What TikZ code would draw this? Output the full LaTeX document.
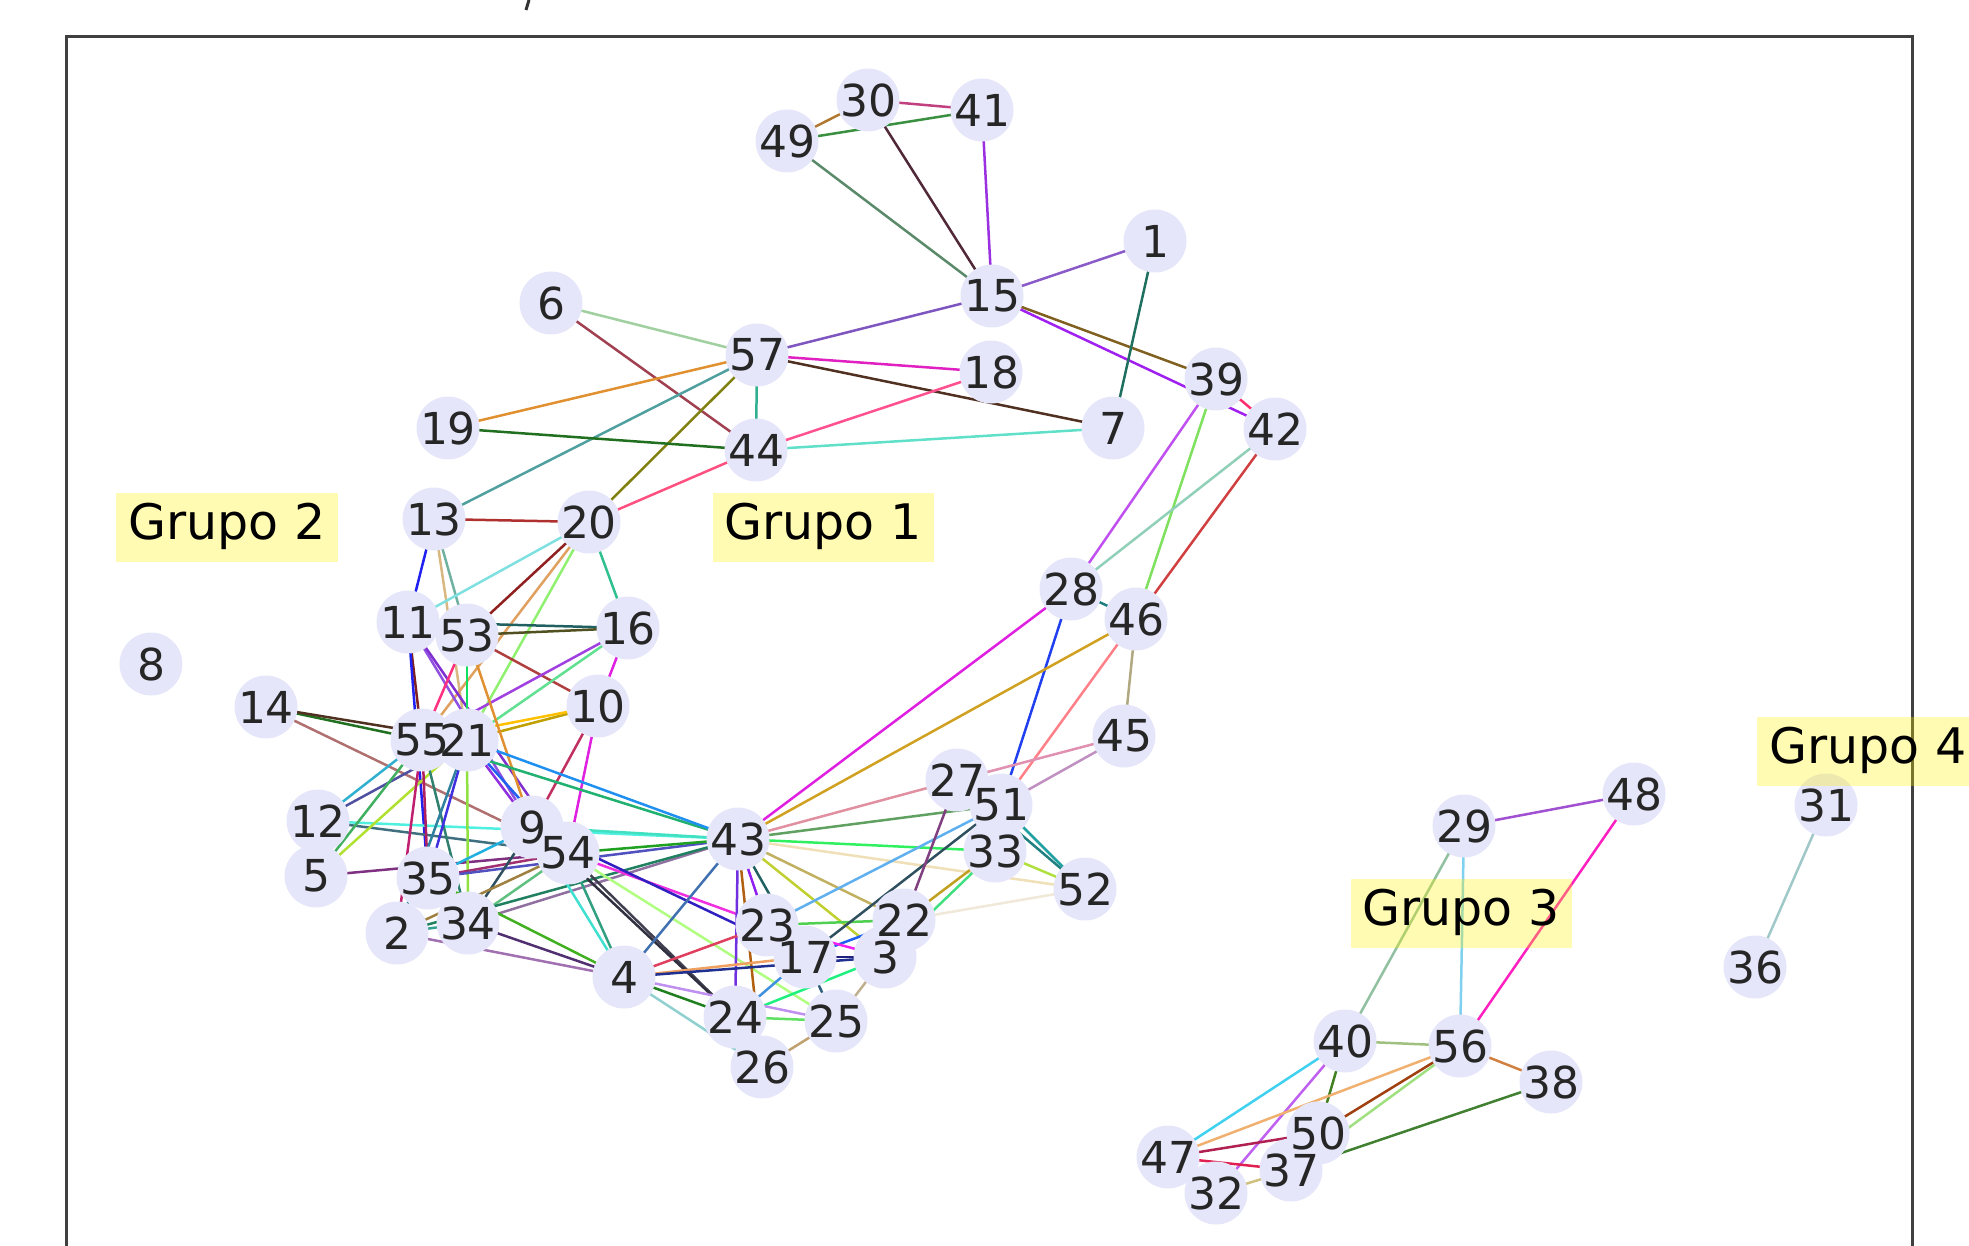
\documentclass[tikz,border=0pt]{standalone}
\usepackage{fontspec}
\setmainfont{DejaVu Sans}
\definecolor{lav}{HTML}{E6E6FA}
\newcommand\ptat[3]{\coordinate (n#1) at (#2,#3);}
\newcommand\edgeC[3]{\definecolor{tmpc}{HTML}{#3}\draw[edge,tmpc] (n#1) -- (n#2);}
\newcommand\vtxat[1]{\node[vtx] (v#1) at (n#1) {};}
\newcommand\vlab[1]{\node[lbl] (l#1) at (n#1) {#1};}
\begin{document}
\begin{tikzpicture}[x=1pt,y=-1pt,
  vtx/.style={circle,fill=lav,minimum size=63pt,inner sep=0pt},
  lbl/.style={inner sep=0pt,text=black!85,font=\fontsize{44}{44}\selectfont},
  edge/.style={line width=2.5pt},
  grp/.style={fill=yellow,fill opacity=0.3,text opacity=1,text=black,font=\fontsize{49}{49}\selectfont,text height=36pt,text depth=11pt,inner xsep=12pt,inner ysep=11pt}]
\useasboundingbox (0,0) rectangle (1969,1246);
% title fragment
\draw[line width=3pt,black!80] (529,0) -- (526,10);
% frame
\draw[line width=3pt,black!75] (66,1300) -- (66,37) -- (1912,37) -- (1912,1300);
% positions
\ptat{30}{868}{100}\ptat{41}{982}{110}\ptat{49}{787}{141}\ptat{1}{1155}{241}
\ptat{15}{992}{296}\ptat{6}{551}{303}\ptat{57}{757}{355}\ptat{18}{991}{372}
\ptat{39}{1216}{379}\ptat{42}{1275}{429}\ptat{7}{1113}{428}\ptat{19}{448}{428}
\ptat{44}{756}{450}\ptat{13}{434}{519}\ptat{20}{589}{522}\ptat{28}{1071}{589}
\ptat{46}{1136}{619}\ptat{11}{408}{622}\ptat{53}{467}{635}\ptat{16}{628}{628}
\ptat{8}{151}{664}\ptat{10}{598}{706}\ptat{14}{266}{707}\ptat{55}{422}{740}
\ptat{21}{467}{740}\ptat{45}{1124}{736}\ptat{27}{957}{780}\ptat{51}{1001}{805}
\ptat{12}{318}{821}\ptat{9}{532}{827}\ptat{54}{568}{853}\ptat{43}{738}{839}
\ptat{33}{995}{851}\ptat{52}{1085}{889}\ptat{5}{316}{876}\ptat{35}{428}{878}
\ptat{2}{397}{933}\ptat{34}{468}{923}\ptat{23}{767}{925}\ptat{22}{904}{920}
\ptat{17}{805}{957}\ptat{3}{885}{957}\ptat{4}{624}{977}\ptat{24}{735}{1017}
\ptat{25}{836}{1021}\ptat{26}{762}{1067}\ptat{29}{1464}{826}\ptat{48}{1634}{794}
\ptat{31}{1826}{805}\ptat{36}{1755}{967}\ptat{40}{1345}{1041}\ptat{56}{1460}{1046}
\ptat{38}{1551}{1082}\ptat{50}{1318}{1133}\ptat{47}{1168}{1157}\ptat{37}{1291}{1170}
\ptat{32}{1216}{1193}
% edges: top
\edgeC{30}{41}{C04080}\edgeC{49}{30}{B07830}\edgeC{49}{41}{3A9040}\edgeC{49}{15}{5A8A6A}
\edgeC{30}{15}{502838}\edgeC{41}{15}{9A30E0}\edgeC{15}{1}{8A5AC8}\edgeC{15}{57}{7F55C0}
\edgeC{15}{39}{806020}\edgeC{15}{42}{A020F0}\edgeC{39}{42}{FF3070}\edgeC{1}{7}{207060}
\edgeC{6}{57}{A0D0A0}\edgeC{6}{44}{A04050}\edgeC{57}{18}{E020C0}\edgeC{57}{7}{503020}
\edgeC{57}{19}{E09030}\edgeC{57}{13}{50A0A0}\edgeC{57}{20}{808010}\edgeC{57}{44}{30B090}
\edgeC{19}{44}{207020}\edgeC{44}{18}{FF5090}\edgeC{44}{7}{60E0C8}\edgeC{44}{20}{FF5080}
\edgeC{39}{28}{C050F0}\edgeC{39}{46}{80E060}\edgeC{42}{28}{90D0B8}\edgeC{42}{46}{D04040}
\edgeC{28}{46}{208080}\edgeC{28}{43}{E020E0}\edgeC{28}{51}{2040F0}\edgeC{46}{43}{D0A020}
\edgeC{46}{51}{FF8088}\edgeC{46}{45}{B0A880}\edgeC{45}{27}{E090B0}\edgeC{45}{51}{C090C0}
% edges: left cluster
\edgeC{13}{20}{B03030}\edgeC{13}{11}{2020F0}\edgeC{13}{53}{70B0A0}\edgeC{13}{21}{D8B880}
\edgeC{20}{11}{80E0E0}\edgeC{20}{53}{902020}\edgeC{20}{55}{E0A060}\edgeC{20}{21}{90F070}
\edgeC{20}{16}{30C090}\edgeC{11}{16}{206060}\edgeC{53}{16}{505020}\edgeC{53}{10}{B04040}
\edgeC{16}{21}{60E090}\edgeC{16}{55}{A040E0}\edgeC{16}{10}{E020E0}\edgeC{10}{21}{C0A000}
\edgeC{10}{55}{FFC000}\edgeC{10}{54}{E020E0}\edgeC{10}{9}{C03060}\edgeC{11}{55}{802020}
\edgeC{11}{35}{2020F0}\edgeC{11}{9}{9050E0}\edgeC{11}{54}{8030D0}\edgeC{53}{55}{FF3080}
\edgeC{53}{21}{10E060}\edgeC{53}{9}{E09030}\edgeC{14}{55}{207020}\edgeC{14}{21}{503020}
\edgeC{14}{54}{B07070}\edgeC{12}{55}{30B0D0}\edgeC{12}{21}{5050A0}\edgeC{12}{43}{50F0E0}
\edgeC{12}{54}{407080}\edgeC{5}{55}{40B060}\edgeC{5}{21}{B0E030}\edgeC{5}{54}{803080}
\edgeC{55}{35}{B02060}\edgeC{55}{2}{C02070}\edgeC{55}{34}{308070}\edgeC{21}{35}{4030E0}
\edgeC{21}{2}{3080A0}\edgeC{21}{34}{90E040}\edgeC{21}{54}{2060F0}\edgeC{21}{9}{9030E0}
\edgeC{55}{43}{20B070}\edgeC{21}{43}{2090F0}\edgeC{35}{54}{A03070}\edgeC{35}{43}{5050C0}
\edgeC{35}{9}{20B0E0}\edgeC{34}{9}{305060}\edgeC{2}{54}{A08040}\edgeC{2}{34}{30A090}
\edgeC{34}{54}{60C080}\edgeC{34}{43}{9070A0}\edgeC{2}{43}{208060}\edgeC{34}{4}{503070}
\edgeC{35}{4}{40B020}\edgeC{2}{4}{A070B0}\edgeC{54}{43}{20A020}\edgeC{9}{43}{40E0C0}
\edgeC{54}{23}{F030E0}\edgeC{9}{17}{3020C0}\edgeC{54}{4}{30A080}\edgeC{9}{4}{40E0D0}
\edgeC{54}{24}{404050}\edgeC{9}{24}{303040}\edgeC{54}{25}{B0FF80}
% edges: 43 hub and lower
\edgeC{43}{4}{4070B0}\edgeC{43}{24}{7030E0}\edgeC{43}{26}{B06010}\edgeC{43}{23}{9020F0}
\edgeC{43}{17}{206060}\edgeC{43}{22}{C0B060}\edgeC{43}{3}{C0D030}\edgeC{43}{33}{30F060}
\edgeC{43}{51}{60A060}\edgeC{43}{27}{E090A0}\edgeC{43}{52}{F0E0B8}\edgeC{23}{51}{60B0F0}
\edgeC{23}{22}{50D050}\edgeC{17}{51}{305060}\edgeC{27}{22}{804080}\edgeC{22}{33}{C0A020}
\edgeC{3}{33}{40E080}\edgeC{22}{52}{F0E8D8}\edgeC{51}{52}{20A0A0}\edgeC{27}{52}{208080}
\edgeC{33}{52}{B0E040}\edgeC{17}{22}{2060F0}\edgeC{17}{3}{202080}\edgeC{23}{3}{F020F0}
\edgeC{4}{23}{E04060}\edgeC{4}{17}{F0A060}\edgeC{4}{3}{203090}\edgeC{3}{24}{20F080}
\edgeC{3}{25}{C0B090}\edgeC{17}{24}{4090E0}\edgeC{17}{25}{306080}\edgeC{4}{24}{208020}
\edgeC{4}{25}{C090F0}\edgeC{4}{26}{90D0D0}\edgeC{24}{25}{60E060}\edgeC{25}{26}{C0A070}
% group 3 and 4
\edgeC{29}{48}{A050D0}\edgeC{29}{40}{90C0A0}\edgeC{29}{56}{80D0F0}\edgeC{48}{56}{FF20C0}
\edgeC{40}{56}{A0C080}\edgeC{40}{50}{408020}\edgeC{40}{47}{40D0F0}\edgeC{40}{32}{C060F0}
\edgeC{56}{38}{D08040}\edgeC{56}{47}{F0B070}\edgeC{56}{50}{A04010}\edgeC{56}{37}{A0E080}
\edgeC{38}{37}{408030}\edgeC{47}{50}{B02050}\edgeC{47}{37}{E02050}\edgeC{32}{37}{D0C080}
\edgeC{31}{36}{A0C8C8}
% vertices
\foreach \k in {30,41,49,1,15,6,57,18,39,42,7,19,44,13,20,28,46,11,53,16,8,10,14,55,21,45,27,51,12,9,54,43,33,52,5,35,2,34,23,22,17,3,4,24,25,26,29,48,31,36,40,56,38,50,47,37,32}{\vtxat{\k}}
\foreach \k in {30,41,49,1,15,6,57,18,39,42,7,19,44,13,20,28,46,11,53,16,8,10,14,55,21,45,27,51,12,9,54,43,33,52,5,35,2,34,23,22,17,3,4,24,25,26,29,48,31,36,40,56,38,50,47,37,32}{\vlab{\k}}
% group labels
\node[grp] (g1) at (823,527) {Grupo 1};
\node[grp] (g2) at (227,527) {Grupo 2};
\node[grp] (g3) at (1461,913) {Grupo 3};
\node[grp,anchor=west] (g4) at (1757,751) {Grupo 4};
\end{tikzpicture}
\end{document}
